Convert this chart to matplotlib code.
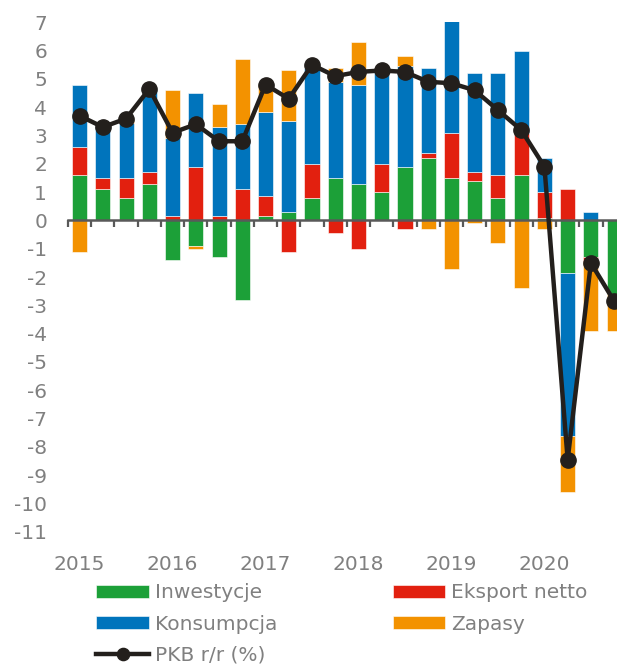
import numpy as np
import matplotlib.pyplot as plt

# kwartaly 2015Q1 - 2020Q4
years = ['2015', '2016', '2017', '2018', '2019', '2020']
inwestycje = [1.6, 1.1, 0.8, 1.3, -1.4, -0.9, -1.3, -2.8,
              0.15, 0.3, 0.8, 1.5, 1.3, 1.0, 1.9, 2.2,
              1.5, 1.4, 0.8, 1.6, 0.1, -1.85, -1.3, -2.6]
eksport = [1.0, 0.4, 0.7, 0.4, 0.15, 1.9, 0.15, 1.1,
           0.7, -1.1, 1.2, -0.45, -1.0, 1.0, -0.3, 0.2,
           1.6, 0.3, 0.8, 1.5, 0.9, 1.1, -0.15, 0.0]
konsumpcja = [2.2, 1.85, 1.95, 2.9, 2.75, 2.6, 3.15, 2.3,
              3.0, 3.2, 3.4, 3.4, 3.5, 3.35, 3.55, 3.0,
              3.95, 3.5, 3.6, 2.9, 1.2, -5.75, 0.3, 0.0]
zapasy = [-1.1, 0.0, 0.15, 0.0, 1.7, -0.1, 0.8, 2.3,
          0.95, 1.8, 0.0, 0.5, 1.5, 0.0, 0.35, -0.3,
          -1.7, -0.1, -0.8, -2.4, -0.3, -2.0, -2.45, -1.3]
pkb = [3.7, 3.3, 3.6, 4.65, 3.1, 3.4, 2.8, 2.8,
       4.8, 4.3, 5.5, 5.1, 5.25, 5.3, 5.25, 4.9,
       4.85, 4.6, 3.9, 3.2, 1.9, -8.45, -1.5, -2.85]

series = [('Inwestycje', inwestycje, '#1ca038'),
          ('Eksport netto', eksport, '#e2200f'),
          ('Konsumpcja', konsumpcja, '#0074bc'),
          ('Zapasy', zapasy, '#f39200')]

gray = '#808080'
plt.rcParams['font.family'] = 'DejaVu Sans'
plt.rcParams['font.size'] = 14.5
plt.rcParams['axes.unicode_minus'] = False

fig = plt.figure(figsize=(6.17, 6.66), dpi=100)
ax = fig.add_axes([0.1102, 0.2015, 0.9040, 0.7649])

x = np.arange(len(pkb))
pos_base = np.zeros(len(x))
neg_base = np.zeros(len(x))
handles = {}
for name, vals, col in series:
    v = np.array(vals)
    base = np.where(v >= 0, pos_base, neg_base)
    b = ax.bar(x, v, 0.65, bottom=base, color=col, edgecolor='white',
               linewidth=0.4, label=name, zorder=2)
    handles[name] = b
    pos_base += np.where(v >= 0, v, 0)
    neg_base += np.where(v < 0, v, 0)

line, = ax.plot(x, pkb, color='#231f1c', lw=3.2, marker='o', ms=11,
                label='PKB r/r (%)', zorder=4)

ax.set_xlim(-0.5, 23.5)
ax.set_ylim(-11, 7)
ax.set_yticks(np.arange(-11, 8))
ax.tick_params(axis='y', length=0, pad=15, labelcolor=gray)

for s in ['top', 'right', 'left']:
    ax.spines[s].set_visible(False)
ax.spines['bottom'].set_position(('data', 0))
ax.spines['bottom'].set_color('#595959')
ax.spines['bottom'].set_linewidth(1.8)
ax.spines['bottom'].set_zorder(3)
ax.set_xticks(np.arange(-0.5, 24, 1))
ax.tick_params(axis='x', length=5, width=1.6, color='#595959',
               labelbottom=False)

sec = ax.secondary_xaxis('bottom')
sec.set_xticks(np.arange(0, 24, 4), labels=years)
sec.tick_params(length=0, pad=17, labelcolor=gray)
sec.spines['bottom'].set_visible(False)

order = [handles['Inwestycje'], handles['Konsumpcja'], line,
         handles['Eksport netto'], handles['Zapasy']]
labels = ['Inwestycje', 'Konsumpcja', 'PKB r/r (%)', 'Eksport netto', 'Zapasy']
leg = fig.legend(order, labels, ncol=2, loc='upper left',
                 bbox_to_anchor=(0.140, 0.139), frameon=False,
                 handlelength=2.6, handleheight=0.65, handletextpad=0.3,
                 labelspacing=0.6, columnspacing=5.75, borderpad=0,
                 labelcolor=gray, markerscale=0.8)

fig.savefig('out.png', dpi=100)
